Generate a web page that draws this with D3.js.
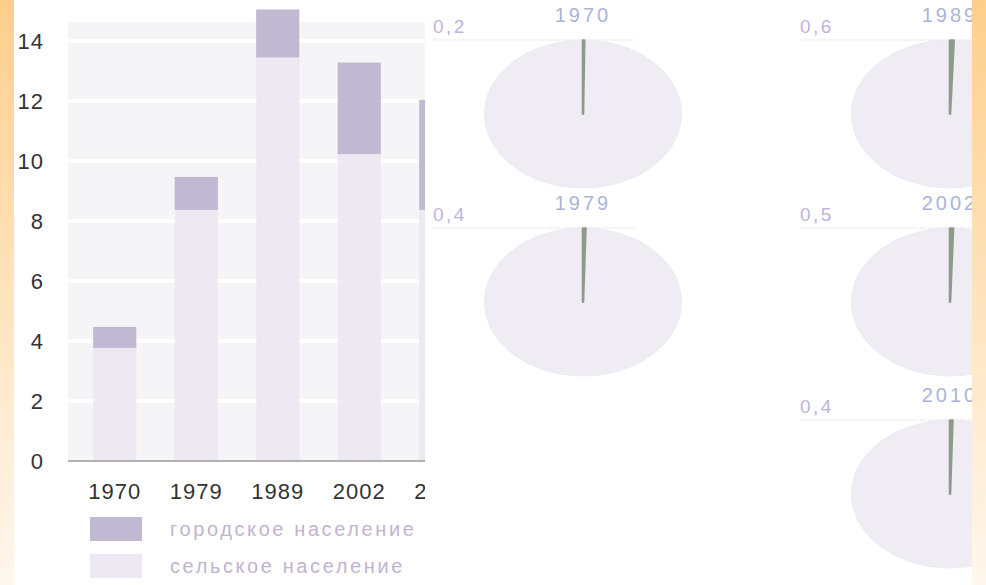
<!DOCTYPE html>
<meta charset="utf-8">
<style>
body { margin: 0; background: #fff; }
svg { display: block; font-family: "Liberation Sans", Arial, sans-serif; }
.axis text { fill: #333; font-size: 22px; letter-spacing: 1px; }
.axis path { display: none; }
.legend text { fill: #c3b3cf; font-size: 20px; letter-spacing: 2.6px; }
.pie-title { fill: #aab4d8; font-size: 20px; letter-spacing: 3px; }
.pie-value { fill: #c2b2dc; font-size: 19px; letter-spacing: 2.5px; }
</style>
<body>
<div id="chart"></div>
<script src="https://cdn.jsdelivr.net/npm/d3@7"></script>
<script>

// data
var years = ["1970", "1979", "1989", "2002", "2010"];
var rural = [3.77, 8.37, 13.45, 10.23, 8.37];   // сельское население
var urban = [0.70, 1.10, 1.60, 3.05, 3.67];     // городское население
var pieShare = [0.2, 0.4, 0.6, 0.5, 0.4];
var yTicks = [0, 2, 4, 6, 8, 10, 12, 14];
var seriesNames = ["городское население", "сельское население"];

var width = 986, height = 585;

var svg = d3.select("#chart").append("svg")
    .attr("width", width)
    .attr("height", height);

var defs = svg.append("defs");

// orange side strips
var grad = defs.append("linearGradient")
    .attr("id", "edge").attr("x1", 0).attr("y1", 0).attr("x2", 0).attr("y2", 1);
grad.append("stop").attr("offset", "0%").attr("stop-color", "#fdcf8c");
grad.append("stop").attr("offset", "55%").attr("stop-color", "#fee5c2");
grad.append("stop").attr("offset", "100%").attr("stop-color", "#fff7ee");

defs.append("clipPath").attr("id", "barclip")
  .append("rect").attr("x", 0).attr("y", 0).attr("width", 425).attr("height", height);

// ---- bar chart ----
var x = d3.scaleBand()
    .domain(years)
    .range([74, 481.5])
    .paddingInner(0.47)
    .paddingOuter(0.235);

var y = d3.scaleLinear()
    .domain([0, 14.633])
    .range([461, 22]);

var bars = svg.append("g").attr("clip-path", "url(#barclip)");

bars.append("rect")
    .attr("x", 68).attr("y", y(14.633))
    .attr("width", 425 - 68).attr("height", y(0) - y(14.633))
    .attr("fill", "#f5f5f8");

bars.selectAll(".grid")
  .data(yTicks.slice(1))
  .enter().append("line")
    .attr("class", "grid")
    .attr("x1", 68).attr("x2", 425)
    .attr("y1", function(d) { return y(d); })
    .attr("y2", function(d) { return y(d); })
    .attr("stroke", "#fff")
    .attr("stroke-width", 4);

var rows = years.map(function(yr, i) { return { year: yr, rural: rural[i], urban: urban[i] }; });
var stack = d3.stack().keys(["rural", "urban"])(rows);
var fills = { rural: "#ede8f1", urban: "#c1b9d2" };

bars.selectAll(".series")
  .data(stack)
  .enter().append("g")
    .attr("fill", function(d) { return fills[d.key]; })
  .selectAll("rect")
  .data(function(d) { return d; })
  .enter().append("rect")
    .attr("x", function(d) { return x(d.data.year); })
    .attr("width", x.bandwidth())
    .attr("y", function(d) { return y(d[1]); })
    .attr("height", function(d) { return y(d[0]) - y(d[1]); });

bars.append("line")
    .attr("x1", 68).attr("x2", 425)
    .attr("y1", y(0)).attr("y2", y(0))
    .attr("stroke", "#9a9a9a")
    .attr("stroke-width", 1.5);

svg.append("g")
    .attr("class", "axis")
    .attr("transform", "translate(68,0)")
    .call(d3.axisLeft(y).tickValues(yTicks).tickSize(0).tickPadding(24));

svg.append("g")
    .attr("class", "axis")
    .attr("clip-path", "url(#barclip)")
    .attr("transform", "translate(0," + y(0) + ")")
    .call(d3.axisBottom(x).tickSize(0).tickPadding(22));

// legend
var legend = svg.append("g").attr("class", "legend");
var legendFill = [fills.urban, fills.rural];
seriesNames.forEach(function(name, i) {
  var g = legend.append("g").attr("transform", "translate(90," + (517 + i * 37) + ")");
  g.append("rect").attr("width", 52).attr("height", 24).attr("fill", legendFill[i]);
  g.append("text").attr("x", 80).attr("y", 19).text(name);
});

// ---- pies ----
var pieCenters = [[583, 40], [583, 228], [950, 40], [950, 228], [950, 420]]; // top of each pie
var pie = d3.pie().sort(null).value(function(d) { return d; });
var arc = d3.arc().innerRadius(0).outerRadius(98.5);
var sliceColor = "#8e9a8c", restColor = "#efecf4";

years.forEach(function(yr, i) {
  var cx = pieCenters[i][0], top = pieCenters[i][1];
  var g = svg.append("g");
  g.append("line")
      .attr("x1", cx - 150).attr("x2", cx + 52)
      .attr("y1", top).attr("y2", top)
      .attr("stroke", "#d6d6e0")
      .attr("stroke-dasharray", "1,1");
  g.append("text").attr("class", "pie-title")
      .attr("x", cx).attr("y", top - 18)
      .attr("text-anchor", "middle")
      .text(yr);
  g.append("text").attr("class", "pie-value")
      .attr("x", cx - 150).attr("y", top - 7)
      .text(String(pieShare[i]).replace(".", ","));
  var p = g.append("g")
      .attr("transform", "translate(" + cx + "," + (top + 74) + ") scale(1,0.75)");
  // small share placed at 12 o'clock, rest follows clockwise
  var slices = pie([pieShare[i], 100 - pieShare[i]]);
  p.selectAll("path")
    .data(slices.slice().reverse())
    .enter().append("path")
      .attr("d", arc)
      .attr("fill", function(d) { return d.index === 0 ? sliceColor : restColor; })
      .attr("stroke", function(d) { return d.index === 0 ? sliceColor : "#ebe7f0"; })
      .attr("stroke-width", function(d) { return d.index === 0 ? 2.6 : 1; })
      .attr("stroke-linejoin", "round");
});

// side strips drawn last, on top of clipped pies
svg.append("rect").attr("x", 0).attr("y", 0).attr("width", 14).attr("height", height).attr("fill", "url(#edge)");
svg.append("rect").attr("x", 972).attr("y", 0).attr("width", 14).attr("height", height).attr("fill", "url(#edge)");

</script>
